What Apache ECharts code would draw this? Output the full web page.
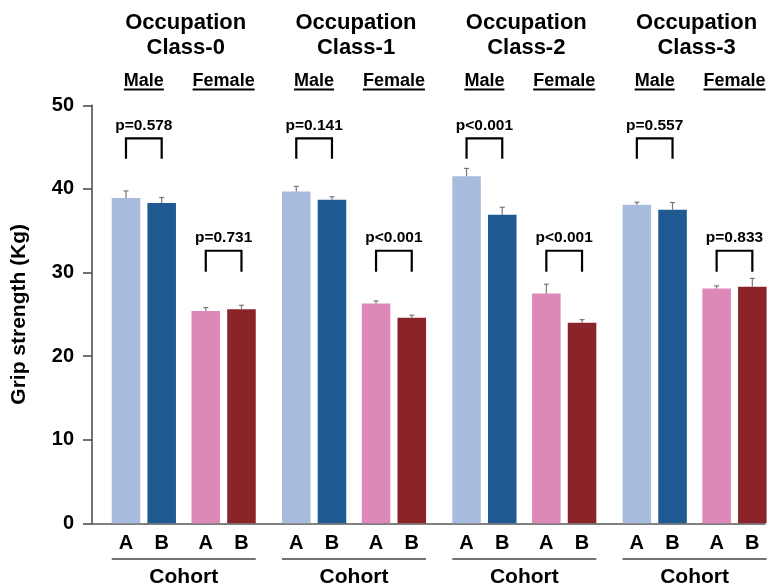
<!DOCTYPE html>
<html>
<head>
<meta charset="utf-8">
<script src="https://cdn.jsdelivr.net/npm/echarts@6/dist/echarts.min.js"></script>
<style>
  html, body { margin: 0; padding: 0; background: #ffffff; }
  #chart { width: 774px; height: 584px; }
</style>
</head>
<body>
<div id="chart"></div>
<script>
// ---- data ----
const classNames = ['Class-0', 'Class-1', 'Class-2', 'Class-3'];
const sexLabels = ['Male', 'Female'];
const cohortLabels = ['A', 'B'];

const maleA      = [38.9, 39.7, 41.5, 38.1];
const maleAErr   = [0.85, 0.6, 0.95, 0.3];
const maleB      = [38.3, 38.7, 36.9, 37.5];
const maleBErr   = [0.67, 0.36, 0.9, 0.87];
const femaleA    = [25.4, 26.3, 27.5, 28.1];
const femaleAErr = [0.4, 0.3, 1.1, 0.3];
const femaleB    = [25.6, 24.6, 24.0, 28.3];
const femaleBErr = [0.48, 0.3, 0.36, 1.0];

const malePValues   = ['p=0.578', 'p=0.141', 'p<0.001', 'p=0.557'];
const femalePValues = ['p=0.731', 'p<0.001', 'p<0.001', 'p=0.833'];

const yTicks = [0, 10, 20, 30, 40, 50];

// ---- layout ----
const GROUP_STEP = 4.77;            // distance between occupation classes (x units)
const SLOT = [0, 1, 2.235, 3.235];  // bar offsets inside a class
const BAR_W = 0.8;
const X_MIN = -0.952, X_MAX = 17.9;
const BRACKET_MALE = { low: 43.6, high: 46.05 };
const BRACKET_FEMALE = { low: 30.1, high: 32.6 };
const COLORS = ['#a8bddd', '#1f5b92', '#dc89ba', '#8a2429'];
const FONT = '"Liberation Sans", Arial, Helvetica, sans-serif';
const AXIS_COLOR = '#444';

const seriesValues = [maleA, maleB, femaleA, femaleB];
const seriesErrors = [maleAErr, maleBErr, femaleAErr, femaleBErr];

function barX(g, i) { return g * GROUP_STEP + SLOT[i]; }

const barData = [];
for (let g = 0; g < classNames.length; g++) {
  for (let i = 0; i < 4; i++) {
    barData.push([barX(g, i), seriesValues[i][g], seriesErrors[i][g], i]);
  }
}

const bracketData = [];
for (let g = 0; g < classNames.length; g++) {
  bracketData.push([barX(g, 0), barX(g, 1), BRACKET_MALE.low, BRACKET_MALE.high, g, 0]);
  bracketData.push([barX(g, 2), barX(g, 3), BRACKET_FEMALE.low, BRACKET_FEMALE.high, g, 1]);
}

const groupData = classNames.map((c, g) => [g, 0]);

const measureCtx = document.createElement('canvas').getContext('2d');
function textWidth(txt, font) { measureCtx.font = font; return measureCtx.measureText(txt).width; }

function txt(text, x, y, size, extra) {
  return Object.assign({
    type: 'text',
    style: {
      text: text, x: x, y: y, fill: '#000',
      font: 'bold ' + size + 'px ' + FONT,
      align: 'center', verticalAlign: 'middle'
    }
  }, extra || {});
}

const chart = echarts.init(document.getElementById('chart'), null, { renderer: 'canvas' });

chart.setOption({
  animation: false,
  backgroundColor: '#ffffff',
  grid: { left: 92, right: 9, top: 105.3, bottom: 60.7, containLabel: false, outerBoundsMode: 'none' },
  xAxis: {
    type: 'value', min: X_MIN, max: X_MAX,
    axisLine: { show: true, onZero: false, lineStyle: { color: '#555', width: 1.5 } },
    axisTick: { show: false }, axisLabel: { show: false }, splitLine: { show: false }
  },
  yAxis: {
    type: 'value', min: yTicks[0], max: yTicks[yTicks.length - 1], interval: yTicks[1] - yTicks[0],
    name: 'Grip strength (Kg)', nameLocation: 'middle', nameRotate: 90, nameGap: 62,
    nameTextStyle: { fontFamily: FONT, fontWeight: 'bold', fontSize: 21, color: '#000' },
    axisLine: { show: true, onZero: false, lineStyle: { color: AXIS_COLOR, width: 1.5 } },
    axisTick: { show: true, inside: false, length: 9, lineStyle: { color: AXIS_COLOR, width: 1.5 } },
    axisLabel: { margin: 18, fontFamily: FONT, fontWeight: 'bold', fontSize: 20, color: '#000' },
    splitLine: { show: false }
  },
  series: [
    {
      // bars with upper error whiskers
      type: 'custom', clip: false, silent: true,
      encode: { x: 0, y: 1 },
      data: barData,
      renderItem: function (params, api) {
        const x = api.value(0), v = api.value(1), e = api.value(2), c = api.value(3);
        const top = api.coord([x, v]);
        const base = api.coord([x, 0]);
        const errTop = api.coord([x, v + e]);
        const w = api.size([BAR_W, 0])[0];
        return {
          type: 'group',
          children: [
            { type: 'rect', shape: { x: top[0] - w / 2, y: top[1], width: w, height: base[1] - top[1] },
              style: { fill: COLORS[c] } },
            { type: 'line', shape: { x1: top[0], y1: top[1], x2: top[0], y2: errTop[1] },
              style: { stroke: '#777', lineWidth: 1.2 } },
            { type: 'line', shape: { x1: top[0] - 2.5, y1: errTop[1], x2: top[0] + 2.5, y2: errTop[1] },
              style: { stroke: '#777', lineWidth: 1.2 } }
          ]
        };
      }
    },
    {
      // significance brackets with p-values
      type: 'custom', clip: false, silent: true,
      encode: { x: 0, y: 3 },
      data: bracketData,
      renderItem: function (params, api) {
        const l = api.coord([api.value(0), api.value(2)]);
        const r = api.coord([api.value(1), api.value(2)]);
        const topL = api.coord([api.value(0), api.value(3)]);
        const topR = api.coord([api.value(1), api.value(3)]);
        const g = api.value(4), s = api.value(5);
        const label = s === 0 ? malePValues[g] : femalePValues[g];
        return {
          type: 'group',
          children: [
            { type: 'polyline',
              shape: { points: [[l[0], l[1]], [topL[0], topL[1]], [topR[0], topR[1]], [r[0], r[1]]] },
              style: { stroke: '#000', lineWidth: 2.2, fill: null } },
            txt(label, (topL[0] + topR[0]) / 2, topL[1] - 13, 15.5)
          ]
        };
      }
    },
    {
      // class headers, sex labels and cohort labels
      type: 'custom', clip: false, silent: true,
      encode: { x: 0, y: 1 },
      data: groupData,
      renderItem: function (params, api) {
        const g = api.value(0);
        const px = i => api.coord([barX(g, i), 0])[0];
        const w = api.size([BAR_W, 0])[0];
        const center = (px(0) + px(3)) / 2;
        const children = [
          txt('Occupation', center + 2, 23, 22),
          txt(classNames[g], center + 2, 47.5, 22)
        ];
        const sexFont = 'bold 18px ' + FONT;
        [[0, 1], [2, 3]].forEach((pair, s) => {
          const cx = (px(pair[0]) + px(pair[1])) / 2;
          const tw = textWidth(sexLabels[s], sexFont);
          children.push(txt(sexLabels[s], cx, 81, 18));
          children.push({ type: 'line',
            shape: { x1: cx - tw / 2, y1: 89.5, x2: cx + tw / 2, y2: 89.5 },
            style: { stroke: '#000', lineWidth: 2 } });
        });
        for (let i = 0; i < 4; i++) {
          children.push(txt(cohortLabels[i % 2], px(i), 543.5, 20));
        }
        children.push({ type: 'line',
          shape: { x1: px(0) - w / 2, y1: 559, x2: px(3) + w / 2, y2: 559 },
          style: { stroke: '#444', lineWidth: 1.5 } });
        children.push(txt('Cohort', center, 577, 21));
        return { type: 'group', children: children };
      }
    }
  ]
});
</script>
</body>
</html>
